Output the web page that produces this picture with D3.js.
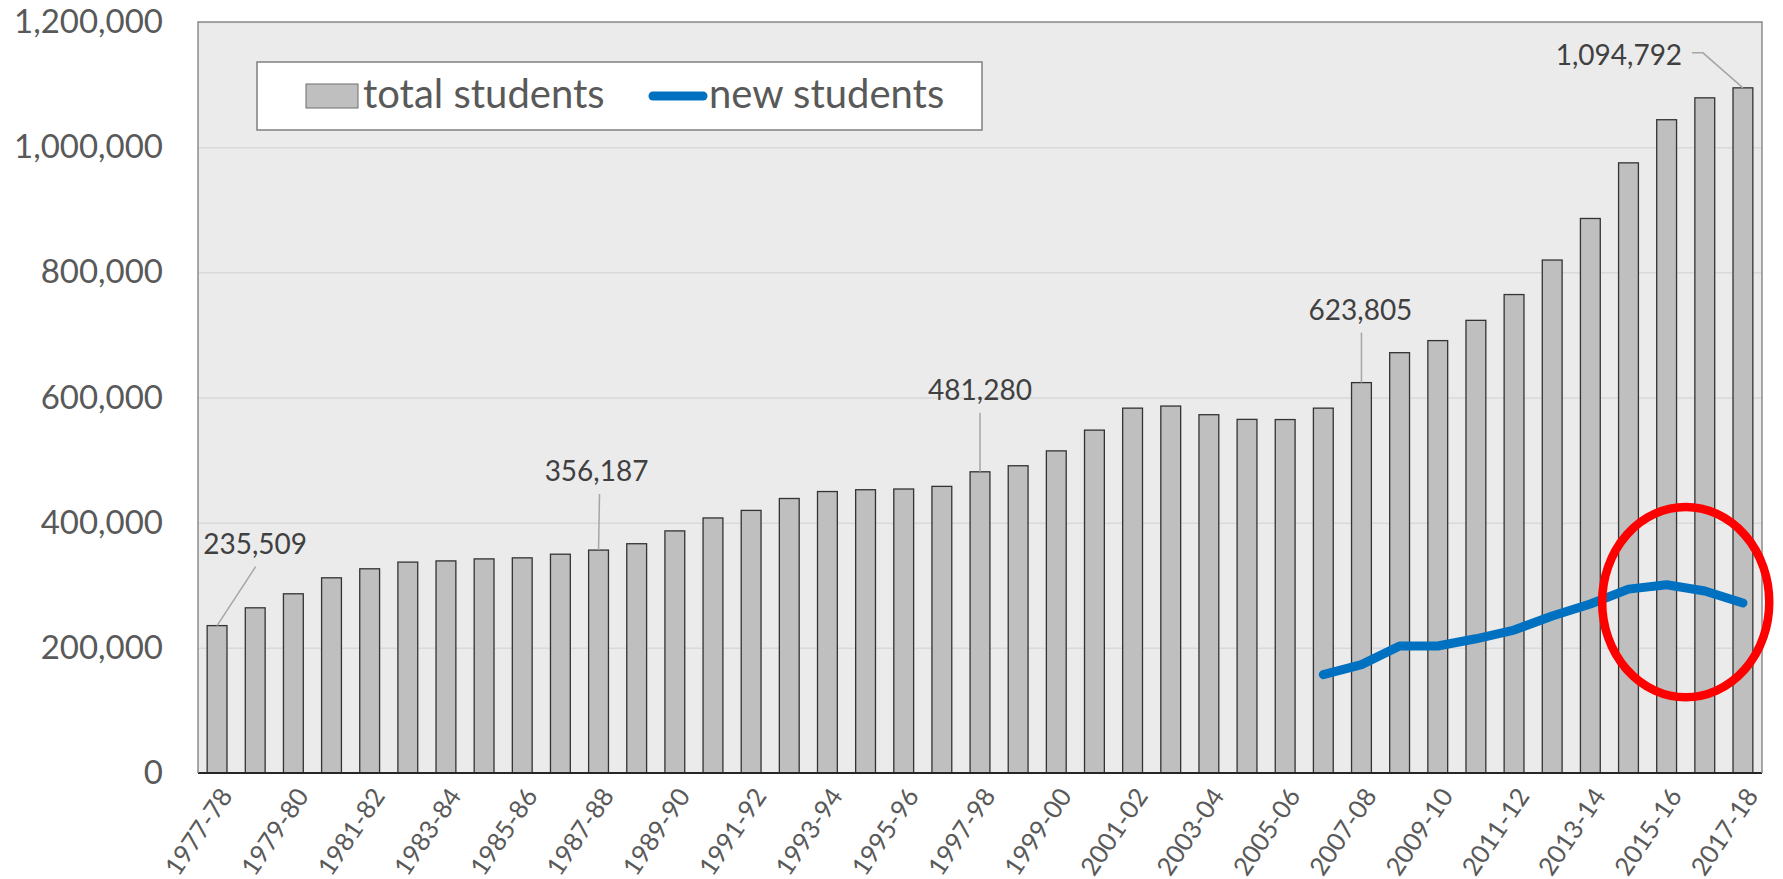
<!DOCTYPE html>
<html lang="en">
<head>
<meta charset="UTF-8">
<title>International students</title>
<script src="https://d3js.org/d3.v7.min.js"></script>
<style>
  body { margin: 0; background: #fff; }
  text { font-family: Lato, "Open Sans", sans-serif; }
</style>
</head>
<body>
<script>
// school years on the x axis
const categories = [
  "1977-78","1978-79","1979-80","1980-81","1981-82","1982-83","1983-84","1984-85",
  "1985-86","1986-87","1987-88","1988-89","1989-90","1990-91","1991-92","1992-93",
  "1993-94","1994-95","1995-96","1996-97","1997-98","1998-99","1999-00","2000-01",
  "2001-02","2002-03","2003-04","2004-05","2005-06","2006-07","2007-08","2008-09",
  "2009-10","2010-11","2011-12","2012-13","2013-14","2014-15","2015-16","2016-17",
  "2017-18"
];

// bars: total students per year
const totalStudents = [
  235509, 263938, 286343, 311882, 326299, 336985, 338894, 342113,
  343777, 349609, 356187, 366354, 386851, 407529, 419585, 438618,
  449749, 452635, 453787, 457984, 481280, 490933, 514723, 547867,
  582996, 586323, 572509, 565039, 564766, 582984, 623805, 671616,
  690923, 723277, 764495, 819644, 886052, 974926, 1043839, 1078822,
  1094792
];

// line: new students, only from 2006-07 on
const newCategories = [
  "2006-07","2007-08","2008-09","2009-10","2010-11","2011-12",
  "2012-13","2013-14","2014-15","2015-16","2016-17","2017-18"
];
const newStudents = [
  157178, 173122, 202970, 202949, 214490, 228467,
  250920, 270128, 293766, 300743, 290836, 271738
];

const yTicks = [0, 200000, 400000, 600000, 800000, 1000000, 1200000];
const xTickLabels = categories.filter((d, i) => i % 2 === 0);
const labelledBars = ["1977-78", "1987-88", "1997-98", "2007-08", "2017-18"];
const seriesNames = ["total students", "new students"];

const W = 1783, H = 879;
const plotL = 198, plotR = 1762, plotT = 22, plotB = 773;

const svg = d3.select("body").append("svg")
    .attr("width", W)
    .attr("height", H);

const x = d3.scaleBand()
    .domain(categories)
    .range([plotL, plotR])
    .paddingInner(0.48)
    .paddingOuter(0.24);

const y = d3.scaleLinear()
    .domain([0, 1200000])
    .range([plotB, plotT]);

const fmt = d3.format(",");

// plot background
svg.append("rect")
    .attr("x", plotL).attr("y", plotT)
    .attr("width", plotR - plotL).attr("height", plotB - plotT)
    .attr("fill", "#ebebeb");

// gridlines
svg.append("g")
    .attr("transform", `translate(${plotL},0)`)
    .call(d3.axisLeft(y).tickValues(yTicks.slice(1)).tickSize(-(plotR - plotL)).tickFormat(""))
    .call(g => g.select(".domain").remove())
    .call(g => g.selectAll("line").attr("stroke", "#d9d9d9").attr("stroke-width", 1.5));

// y axis labels
svg.append("g")
    .attr("transform", `translate(${plotL},0)`)
    .call(d3.axisLeft(y).tickValues(yTicks).tickFormat(fmt).tickSize(0).tickPadding(35))
    .call(g => g.select(".domain").remove())
    .call(g => g.selectAll("text")
        .attr("fill", "#595959")
        .style("font-size", "33px")
        .style("font-family", "Lato, sans-serif"));

// bars
svg.selectAll(".bar")
    .data(categories)
    .enter().append("rect")
    .attr("class", "bar")
    .attr("x", d => x(d))
    .attr("width", x.bandwidth())
    .attr("y", (d, i) => y(totalStudents[i]))
    .attr("height", (d, i) => plotB - y(totalStudents[i]))
    .attr("fill", "#bfbfbf")
    .attr("stroke", "#333")
    .attr("stroke-width", 1.3);

// new students line
const line = d3.line()
    .x((d, i) => x(newCategories[i]) + x.bandwidth() / 2)
    .y(d => y(d));

svg.append("path")
    .datum(newStudents)
    .attr("d", line)
    .attr("fill", "none")
    .attr("stroke", "#0070c0")
    .attr("stroke-width", 9)
    .attr("stroke-linecap", "round")
    .attr("stroke-linejoin", "round");

// x axis
svg.append("g")
    .attr("transform", `translate(0,${plotB})`)
    .call(d3.axisBottom(x).tickValues(xTickLabels).tickSize(0))
    .call(g => g.select(".domain").attr("stroke", "#262626").attr("stroke-width", 2)
        .attr("d", `M${plotL},0H${plotR}`))
    .call(g => g.selectAll("text")
        .attr("x", 0).attr("y", 0).attr("dy", "0.35em")
        .attr("text-anchor", "end")
        .attr("transform", "translate(9,18) rotate(-56)")
        .attr("fill", "#595959")
        .style("font-size", "25.5px")
        .style("font-family", "Lato, sans-serif"));

// plot border (left, top, right)
svg.append("path")
    .attr("d", `M${plotL},${plotB}V${plotT}H${plotR}V${plotB}`)
    .attr("fill", "none")
    .attr("stroke", "#8c8c8c")
    .attr("stroke-width", 1.5);

// legend
const legend = svg.append("g");
legend.append("rect")
    .attr("x", 257).attr("y", 62).attr("width", 725).attr("height", 68)
    .attr("fill", "#fff").attr("stroke", "#808080").attr("stroke-width", 1.5);
legend.append("rect")
    .attr("x", 306).attr("y", 84).attr("width", 52).attr("height", 24)
    .attr("fill", "#bfbfbf").attr("stroke", "#6e6e6e").attr("stroke-width", 1);
legend.append("text")
    .attr("x", 363).attr("y", 108)
    .attr("fill", "#595959").style("font-size", "40px")
    .text(seriesNames[0]);
legend.append("line")
    .attr("x1", 653).attr("x2", 703).attr("y1", 96).attr("y2", 96)
    .attr("stroke", "#0070c0").attr("stroke-width", 9).attr("stroke-linecap", "round");
legend.append("text")
    .attr("x", 709).attr("y", 108)
    .attr("fill", "#595959").style("font-size", "40px")
    .text(seriesNames[1]);

// red ellipse around the last few years of the new-students line
const ex = (x("2015-16") + x("2016-17") + x.bandwidth()) / 2;
svg.append("ellipse")
    .attr("cx", ex)
    .attr("cy", y(273000))
    .attr("rx", x.step() * 2.19)
    .attr("ry", y(0) - y(152000))
    .attr("fill", "none")
    .attr("stroke", "#ff0000")
    .attr("stroke-width", 8.5);

// data labels with leader lines (offsets from the bar top centre)
const labelLayout = {
  "1977-78": { tx: 38, ty: -82, lead: [[38.6, -59], [0, 0]] },
  "1987-88": { tx: -2, ty: -79, lead: [[1, -56], [0, 0]] },
  "1997-98": { tx: 0, ty: -82, lead: [[0, -59], [0, 0]] },
  "2007-08": { tx: -1, ty: -73, lead: [[0, -50], [0, 0]] },
  "2017-18": { tx: -124, ty: -33, lead: [[-51, -35], [-40, -35], [0, 0]] }
};

labelledBars.forEach(cat => {
  const i = categories.indexOf(cat);
  const cx = x(cat) + x.bandwidth() / 2;
  const cy = y(totalStudents[i]);
  const L = labelLayout[cat];
  svg.append("path")
      .attr("d", d3.line()(L.lead.map(p => [cx + p[0], cy + p[1]])))
      .attr("fill", "none")
      .attr("stroke", "#a6a6a6")
      .attr("stroke-width", 1.5);
  svg.append("text")
      .attr("x", cx + L.tx)
      .attr("y", cy + L.ty)
      .attr("dy", "0.36em")
      .attr("text-anchor", "middle")
      .attr("fill", "#404040")
      .style("font-size", "28px")
      .text(fmt(totalStudents[i]));
});
</script>
</body>
</html>
